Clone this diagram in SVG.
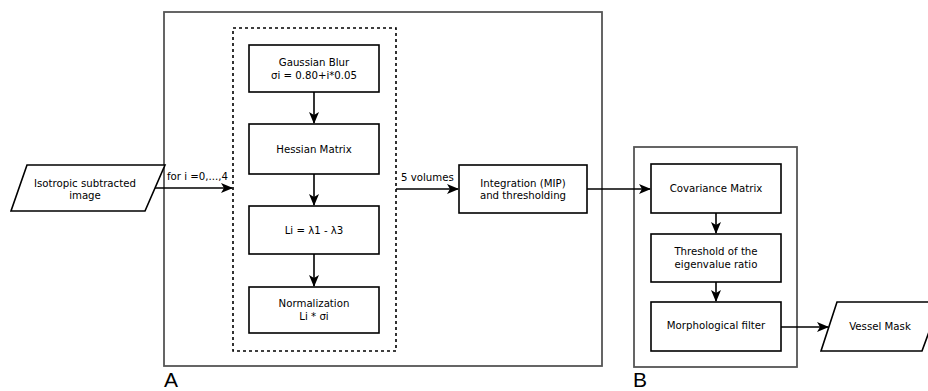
<svg xmlns="http://www.w3.org/2000/svg" width="928" height="391" viewBox="0 0 928 391">
<defs>
<style>
.frame{fill:none;stroke:#555;stroke-width:1.8}
.box{fill:#fff;stroke:#000;stroke-width:1.6}
.dash{fill:none;stroke:#000;stroke-width:1.6;stroke-dasharray:3,3}
.t{font-family:"DejaVu Sans",sans-serif;font-size:10.2px;fill:#000;text-anchor:middle}
.lbl{font-family:"DejaVu Sans",sans-serif;font-size:10.2px;fill:#000}
.big{font-family:"Liberation Sans",Arial,sans-serif;font-size:21px;fill:#000}
.c{fill:none;stroke:#000;stroke-width:1.6}
</style>
<marker id="ah" markerWidth="12" markerHeight="12" viewBox="0 0 12 12" refX="11" refY="6" orient="auto" markerUnits="userSpaceOnUse">
<path d="M0,1 L12,6 L0,11 L3,6 Z" fill="#000"/>
</marker>
</defs>
<rect class="frame" x="164" y="12" width="438" height="354"/>
<rect class="frame" x="634" y="147" width="163" height="220"/>
<rect class="dash" x="233" y="28" width="163" height="323"/>
<text class="big" x="164" y="387">A</text>
<text class="big" x="633" y="387">B</text>
<g id="connectors">
<line class="c" x1="155" y1="188" x2="232" y2="188" marker-end="url(#ah)"/>
<line class="c" x1="314" y1="92" x2="314" y2="123" marker-end="url(#ah)"/>
<line class="c" x1="314" y1="174" x2="314" y2="205" marker-end="url(#ah)"/>
<line class="c" x1="314" y1="254" x2="314" y2="286" marker-end="url(#ah)"/>
<line class="c" x1="396" y1="189" x2="458" y2="189" marker-end="url(#ah)"/>
<line class="c" x1="587" y1="189" x2="650" y2="189" marker-end="url(#ah)"/>
<line class="c" x1="716" y1="213" x2="716" y2="233" marker-end="url(#ah)"/>
<line class="c" x1="716" y1="282" x2="716" y2="301" marker-end="url(#ah)"/>
<line class="c" x1="781" y1="327" x2="828" y2="327" marker-end="url(#ah)"/>
<text class="lbl" x="167" y="180">for i =0,...,4</text>
<text class="lbl" x="401" y="181">5 volumes</text>
</g>
<g id="input">
<polygon class="box" points="27,165 165,165 145,211 11,211"/>
<text class="t" x="85" y="186.5">Isotropic subtracted</text>
<text class="t" x="85" y="199">image</text>
</g>
<g id="gauss">
<rect class="box" x="249" y="45" width="130" height="47"/>
<text class="t" x="314" y="66">Gaussian Blur</text>
<text class="t" x="314" y="79">σi = 0.80+i*0.05</text>
</g>
<g id="hessian">
<rect class="box" x="249" y="124" width="130" height="50"/>
<text class="t" x="314" y="153">Hessian Matrix</text>
</g>
<g id="li">
<rect class="box" x="249" y="206" width="130" height="48"/>
<text class="t" x="314" y="234">Li = λ1 - λ3</text>
</g>
<g id="norm">
<rect class="box" x="249" y="287" width="130" height="46"/>
<text class="t" x="314" y="307">Normalization</text>
<text class="t" x="314" y="320">Li * σi</text>
</g>
<g id="integration">
<rect class="box" x="459" y="165" width="128" height="48"/>
<text class="t" x="523" y="186.5">Integration (MIP)</text>
<text class="t" x="523" y="199">and thresholding</text>
</g>
<g id="cov">
<rect class="box" x="651" y="164" width="130" height="49"/>
<text class="t" x="716" y="192">Covariance Matrix</text>
</g>
<g id="thresh">
<rect class="box" x="651" y="234" width="130" height="48"/>
<text class="t" x="716" y="254.5">Threshold of the</text>
<text class="t" x="716" y="267.5">eigenvalue ratio</text>
</g>
<g id="morph">
<rect class="box" x="651" y="302" width="130" height="49"/>
<text class="t" x="716" y="329">Morphological filter</text>
</g>
<g id="vessel">
<polygon class="box" points="837,302 940,302 922,351 821,351"/>
<text class="t" x="880" y="330">Vessel Mask</text>
</g>
</svg>
